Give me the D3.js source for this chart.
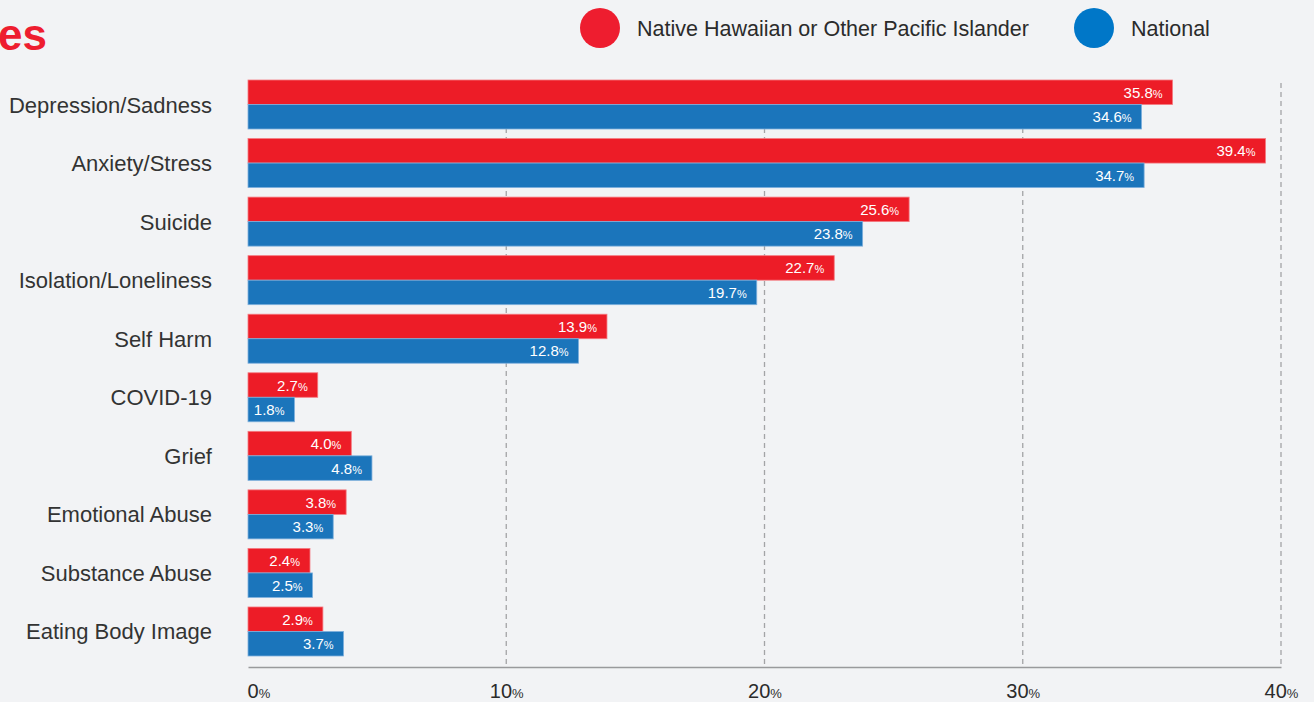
<!DOCTYPE html>
<html>
<head>
<meta charset="utf-8">
<script src="https://cdn.jsdelivr.net/npm/d3@7"></script>
<style>
  html, body { margin: 0; padding: 0; background: #f2f3f5; }
  svg { display: block; font-family: "Liberation Sans", Arial, sans-serif; }
</style>
</head>
<body>
<svg id="chart"></svg>
<script>
var W = 1314;
var H = 702;

// data
var categories = ["Depression/Sadness", "Anxiety/Stress", "Suicide", "Isolation/Loneliness", "Self Harm",
  "COVID-19", "Grief", "Emotional Abuse", "Substance Abuse", "Eating Body Image"];
var seriesNames = ["Native Hawaiian or Other Pacific Islander", "National"];
var nhpiValues = [35.8, 39.4, 25.6, 22.7, 13.9, 2.7, 4.0, 3.8, 2.4, 2.9];
var nationalValues = [34.6, 34.7, 23.8, 19.7, 12.8, 1.8, 4.8, 3.3, 2.5, 3.7];
var xTicks = [0, 10, 20, 30, 40];

var barColors = ["#ed1c27", "#1b75bb"];
var barStrokes = ["#f47a80", "#7fb0dc"];
var legendColors = ["#ee1d2f", "#0077c8"];

var margin = {left: 248, right: 33, top: 80, bottom: 46};

var svg = d3.select("#chart")
  .attr("width", W)
  .attr("height", H);

// title (cut off at the left edge, as in the source)
svg.append("text")
  .attr("x", 47)
  .attr("y", 50)
  .attr("text-anchor", "end")
  .attr("fill", "#ee1d2f")
  .attr("font-size", 44)
  .attr("font-weight", 900)
  .text("Top Mental Health Issues");

// legend
var legendX = [600, 1094];
var legend = svg.append("g");
seriesNames.forEach(function(name, i) {
  legend.append("circle")
    .attr("cx", legendX[i])
    .attr("cy", 28)
    .attr("r", 20)
    .attr("fill", legendColors[i]);
  legend.append("text")
    .attr("x", legendX[i] + 37)
    .attr("y", 36)
    .attr("font-size", 21.5)
    .attr("fill", "#2b2b2b")
    .text(name);
});

var x = d3.scaleLinear()
  .domain([0, 40])
  .range([margin.left, W - margin.right]);

var y = d3.scaleBand()
  .domain(categories)
  .range([margin.top, 656])
  .paddingInner(0.163)
  .paddingOuter(0);

var ySub = d3.scaleBand()
  .domain([0, 1])
  .range([0, y.bandwidth()]);

var axisY = H - 35;

// dashed grid lines
svg.append("g")
  .selectAll("line")
  .data(xTicks.slice(1))
  .join("line")
    .attr("x1", function(d) { return x(d); })
    .attr("x2", function(d) { return x(d); })
    .attr("y1", margin.top + 3)
    .attr("y2", axisY)
    .attr("stroke", "#a3a4a6")
    .attr("stroke-width", 1.3)
    .attr("stroke-dasharray", "5,4");

// bottom axis
var xAxis = svg.append("g")
  .attr("transform", "translate(0," + axisY + ")")
  .call(d3.axisBottom(x).tickValues(xTicks).tickSize(0).tickFormat(""));
xAxis.select(".domain").attr("stroke", "#999a9c").attr("stroke-width", 1.3);

xAxis.selectAll(".tick").each(function(d, i) {
  var t = d3.select(this).select("text")
    .attr("y", 0)
    .attr("dy", 31)
    .attr("fill", "#2b2b2b")
    .attr("font-size", 20)
    .attr("text-anchor", i === 0 ? "start" : "middle")
    .attr("dx", i === 0 ? -1 : 0);
  t.text(null);
  t.append("tspan").text(d);
  t.append("tspan").attr("font-size", 13).text("%");
});

// category labels
svg.append("g")
  .selectAll("text")
  .data(categories)
  .join("text")
    .attr("x", margin.left - 36)
    .attr("y", function(d) { return y(d) + y.bandwidth() / 2 + 8; })
    .attr("text-anchor", "end")
    .attr("font-size", 22)
    .attr("fill", "#333")
    .text(function(d) { return d; });

// bars
var rows = categories.map(function(c, i) {
  return {cat: c, vals: [nhpiValues[i], nationalValues[i]]};
});

var groups = svg.append("g")
  .selectAll("g")
  .data(rows)
  .join("g")
    .attr("transform", function(d) { return "translate(0," + y(d.cat) + ")"; });

groups.selectAll("rect")
  .data(function(d) { return d.vals.map(function(v, k) { return {v: v, k: k}; }); })
  .join("rect")
    .attr("x", x(0))
    .attr("y", function(d) { return ySub(d.k); })
    .attr("width", function(d) { return x(d.v) - x(0); })
    .attr("height", ySub.bandwidth())
    .attr("fill", function(d) { return barColors[d.k]; })
    .attr("stroke", function(d) { return barStrokes[d.k]; })
    .attr("stroke-width", 0.8);

var labels = groups.selectAll("text")
  .data(function(d) { return d.vals.map(function(v, k) { return {v: v, k: k}; }); })
  .join("text")
    .attr("x", function(d) { return x(d.v) - 10; })
    .attr("y", function(d) { return ySub(d.k) + ySub.bandwidth() / 2 + 5.5; })
    .attr("text-anchor", "end")
    .attr("fill", "#fff")
    .attr("font-size", 15);
labels.append("tspan").text(function(d) { return d.v.toFixed(1); });
labels.append("tspan").attr("font-size", 11).text("%");
</script>
</body>
</html>
